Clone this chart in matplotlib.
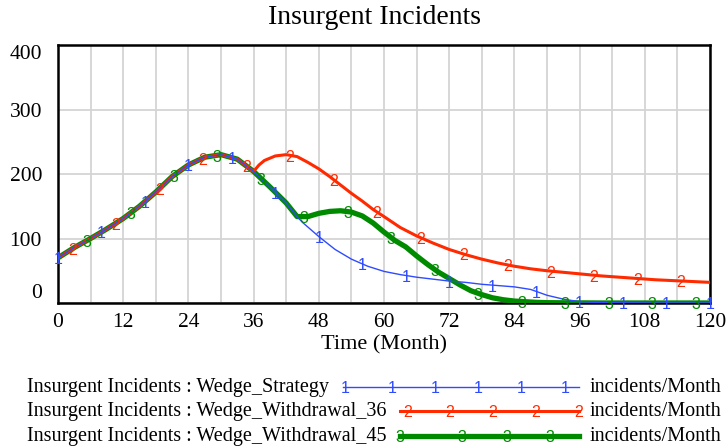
import numpy as np
import matplotlib
matplotlib.use('Agg')
from matplotlib import pyplot as plt
from matplotlib.lines import Line2D

# tratto comune a tutte le serie (mesi 0-36)
mesi_comuni = [0, 3, 6, 9, 12, 15, 18, 21, 24, 27, 30, 33, 36]
incidenti_comuni = [70, 86, 100, 115, 131, 150, 172, 196, 214, 226, 230, 223, 204]

# Wedge_Strategy dopo il mese 36
mesi_strategy = [39, 42, 44, 45, 48, 51, 54, 57, 60, 63, 66, 69, 72, 75, 78, 81, 84, 87, 90, 93, 96, 100, 110, 120]
valori_strategy = [180, 155, 134, 125, 103, 83, 68, 57, 49, 44, 40, 37, 34, 32, 29, 27, 25, 21, 12, 6, 2, 0.5, 0, 0]

# Wedge_Withdrawal_36 dopo il mese 36
mesi_w36 = [37, 38, 40, 42, 44, 46, 48, 50, 52, 54, 56, 58, 60, 63, 66, 69, 72, 75, 78, 81, 84, 87, 90, 95, 100, 105, 110, 115, 120]
valori_w36 = [214, 221, 228, 230, 227, 218, 208, 196, 183, 170, 158, 145, 134, 117, 104, 93, 83, 75, 68, 62, 57, 53, 50, 46, 42, 39, 36, 34, 32]

# Wedge_Withdrawal_45 dopo il mese 44 (uguale a Strategy fino a li)
mesi_w45 = [46, 48, 50, 52, 54, 56, 58, 60, 62, 64, 66, 68, 70, 72, 74, 76, 78, 80, 82, 84, 86, 88, 90, 100, 120]
valori_w45 = [134, 139, 142, 143, 141, 135, 124, 110, 97, 87, 73, 60, 48, 38, 28, 19, 13, 8, 5, 3, 2, 1, 0.5, 0, 0]

nome = 'Insurgent Incidents'
scenari = ['Wedge_Strategy', 'Wedge_Withdrawal_36', 'Wedge_Withdrawal_45']
unita = 'incidents/Month'
colori = ['#2f4bff', '#ff2a00', '#008a00']
spessori = [1.0, 2.2, 3.8]
sfasamenti = [0, 8 / 3, 16 / 3]  # dove Vensim mette i numeri sulla linea

t1 = mesi_comuni + mesi_strategy
v1 = incidenti_comuni + valori_strategy
t2 = mesi_comuni + mesi_w36
v2 = incidenti_comuni + valori_w36
n44 = mesi_strategy.index(44)
t3 = mesi_comuni + mesi_strategy[:n44 + 1] + mesi_w45
v3 = incidenti_comuni + valori_strategy[:n44 + 1] + valori_w45
serie = [(t1, v1), (t2, v2), (t3, v3)]

serif = 'Liberation Serif'
num_font = 'Liberation Sans'
fig = plt.figure(figsize=(7.28, 4.48), dpi=100)
ax = fig.add_axes([58 / 728, 145 / 448, 652 / 728, 258 / 448])

# disegna prima la verde (sotto), poi rossa, poi blu
for i in [2, 1, 0]:
    t, v = serie[i]
    ax.plot(t, v, color=colori[i], lw=spessori[i], zorder=3 + (2 - i), solid_joinstyle='round')
    pos = np.arange(sfasamenti[i], 120.01, 8)
    for p in pos:
        ax.text(p, np.interp(p, t, v) - 3, str(i + 1), color=colori[i], fontsize=11.5,
                ha='center', va='center', family=num_font, zorder=6, clip_on=False)

ax.set_xlim(0, 120)
ax.set_ylim(0, 400)
ax.set_xticks(range(0, 121, 12))
ax.set_xticks(range(0, 121, 6), minor=True)
ax.set_yticks(range(0, 401, 100))
ax.grid(True, which='both', color='#d4d4d4', lw=1.3, zorder=0)
ax.tick_params(which='both', length=0, labelsize=15.5)
ax.tick_params(axis='x', pad=7)
ax.tick_params(axis='y', pad=11.5)
for lab in ax.get_xticklabels() + ax.get_yticklabels():
    lab.set_family(serif)
ylabs = ax.get_yticklabels()
ylabs[0].set_va('bottom')
ylabs[-1].set_va('top')
for s in ax.spines.values():
    s.set_linewidth(1.8)
    s.set_color('black')
ax.set_xlabel('Time (Month)', family=serif, fontsize=16, labelpad=2.5)
fig.text(375 / 728, 1 - 18 / 448, nome, family=serif, fontsize=20, ha='center', va='center')

# legenda in basso
righe_y = [387, 411, 436]
inizio_linea = [343, 400, 400]
marcatori = [[345, 392, 435, 478, 521, 565], [408, 450, 493, 536, 579], [400, 462, 507, 550]]
for i in range(3):
    y = 1 - righe_y[i] / 448
    fig.add_artist(Line2D([inizio_linea[i] / 728, 579 / 728], [y, y], color=colori[i], lw=spessori[i]))
    for m in marcatori[i]:
        fig.text(m / 728, y - 1 / 448, str(i + 1), color=colori[i], fontsize=11.5,
                 family=num_font, ha='center', va='center')
    fig.text(27 / 728, y, nome + ' : ' + scenari[i], family=serif, fontsize=14.5, va='center')
    fig.text(590 / 728, y, unita, family=serif, fontsize=14.5, va='center')

fig.savefig('out.png', dpi=100)
